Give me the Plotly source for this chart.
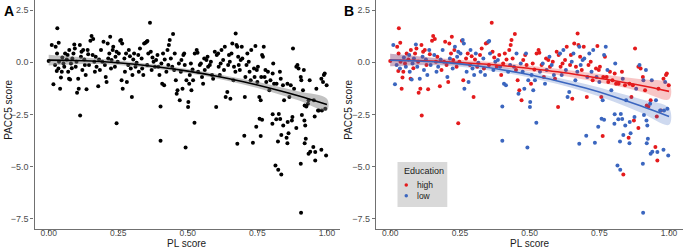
import plotly.graph_objects as go

# ---- data ----
high_x = [0.0, 0.025, 0.031, 0.036, 0.03, 0.037, 0.029, 0.041, 0.044, 0.047, 0.053, 0.059, 0.065, 0.073, 0.074, 0.083, 0.089, 0.094, 0.1,
          0.102, 0.108, 0.113, 0.112, 0.118, 0.124, 0.13, 0.136, 0.142, 0.15, 0.154, 0.16, 0.164, 0.169, 0.178, 0.184, 0.193, 0.197,
          0.202, 0.208, 0.212, 0.218, 0.221, 0.226, 0.23, 0.238, 0.244, 0.248, 0.257, 0.262, 0.272, 0.278, 0.286, 0.292, 0.299,
          0.304, 0.312, 0.322, 0.328, 0.336, 0.343, 0.348, 0.354, 0.364, 0.367, 0.373, 0.382, 0.391, 0.398,
          0.405, 0.411, 0.417, 0.427, 0.432, 0.435, 0.439, 0.447, 0.451, 0.457, 0.463, 0.471, 0.477, 0.484, 0.489,
          0.505, 0.511, 0.517, 0.525, 0.532, 0.535, 0.543, 0.551, 0.559, 0.567, 0.573, 0.583, 0.591, 0.597,
          0.602, 0.604, 0.611, 0.618, 0.627, 0.633, 0.645, 0.648, 0.653, 0.66, 0.666, 0.672, 0.675, 0.681, 0.687, 0.694,
          0.705, 0.711, 0.719, 0.726, 0.762, 0.738, 0.743, 0.748, 0.752, 0.757, 0.764, 0.77, 0.776, 0.782, 0.788, 0.797,
          0.805, 0.81, 0.819, 0.836, 0.831, 0.842, 0.855, 0.858, 0.865, 0.87, 0.874, 0.878, 0.89, 0.89, 0.898,
          0.906, 0.914, 0.92, 0.926, 0.934, 0.951, 0.956, 0.958, 0.962, 0.971, 0.98, 0.989, 0.992, 0.999]
high_y = [0.06, 0.74, 1.63, 0.93, 0.42, 0.02, -0.42, -1.27, -0.74, -0.46, -0.06, 0.42, 0.13, -0.79, 0.58, -0.29, 0.42, 0.66, 0.02,
          -1.46, -1.27, -2.56, 0.82, 0.5, 0.58, -0.14, -1.3, 0.38, 1.03, 1.25, 1.11, 0.02, 0.26, -1.15, -0.38, 0.02, 0.98,
          -0.14, -0.95, 0.9, 0.42, 1.22, 0.1, 0.58, -0.22, -2.93, 0.02, 1.03, -0.87, 0.18, 0.42, -0.14, 0.29, -1.67,
          0.13, -0.22, 0.34, 0.66, -0.3, 0.9, 0.93, -0.14, 1.89, 0.5, 0.22, -0.22, 0.34, -0.62,
          -0.06, 0.42, 0.13, 0.58, 0.82, 1.06, 0.18, 1.35, -0.38, -0.87, -1.35, -1.83, 0.1, 0.34, -0.14,
          -1.03, -0.06, -0.35, 0.42, 0.58, 0.45, -0.14, -0.71, 0.18, 0.1, -0.22, 0.02, -0.79, 0.5,
          -2.15, 0.34, -0.22, -0.06, 0.1, 0.74, -0.14, 0.34, -1.75, 0.9, -0.22, 1.38, 0.82, 0.26, -0.38, 0.74,
          -1.67, -0.14, 0.02, -0.87, -3.54, -0.3, 0.77, -0.38, -0.22, -1.67, -0.71, 0.26, -0.71, -0.95, -0.46, -0.87,
          -0.54, -1.03, -1.03, -5.38, -0.46, -1.11, -3.62, -1.03, -1.67, -1.11, -2.8, 0.66, -3.16, -0.22, -0.3,
          -0.71, -1.35, -2.07, -2.12, -1.83, -4.07, -2.6, -4.71, -1.27, -2.31, -0.79, -0.62, -0.54, -1.11]

low_x = [0.011, 0.017, 0.023, 0.035, 0.049, 0.056, 0.068, 0.07, 0.077, 0.08, 0.085, 0.092, 0.097,
         0.106, 0.116, 0.121, 0.128, 0.133, 0.14, 0.145, 0.158, 0.166, 0.172, 0.181, 0.188,
         0.205, 0.214, 0.224, 0.232, 0.24, 0.244, 0.252, 0.26, 0.264, 0.266, 0.274, 0.281, 0.288, 0.295, 0.301,
         0.307, 0.316, 0.324, 0.334, 0.34, 0.352, 0.355, 0.358, 0.37, 0.377, 0.386, 0.394,
         0.402, 0.402, 0.408, 0.415, 0.423, 0.43, 0.444, 0.453, 0.46, 0.468, 0.475, 0.481, 0.487, 0.492, 0.495,
         0.501, 0.502, 0.507, 0.513, 0.519, 0.524, 0.537, 0.547, 0.555, 0.561, 0.571, 0.579, 0.587,
         0.609, 0.615, 0.621, 0.63, 0.636, 0.642, 0.651, 0.657, 0.664, 0.671, 0.678, 0.678, 0.683, 0.69, 0.696,
         0.703, 0.707, 0.714, 0.722, 0.728, 0.734, 0.74, 0.746, 0.75, 0.758, 0.762, 0.767, 0.767, 0.773, 0.779, 0.793,
         0.804, 0.805, 0.807, 0.815, 0.818, 0.824, 0.825, 0.827, 0.832, 0.834, 0.836, 0.843, 0.846, 0.858, 0.859, 0.862, 0.876, 0.882, 0.894,
         0.906, 0.907, 0.908, 0.91, 0.917, 0.919, 0.92, 0.922, 0.924, 0.932, 0.934, 0.938, 0.94, 0.953, 0.958, 0.968, 0.98, 0.982, 0.986, 0.994, 0.997]
low_y = [0.82, -1.06, -0.14, -0.3, 0.22, -0.22, 0.34, -0.46, -0.83, -0.06, 0.18, 0.85, -0.22,
         -0.79, 0.26, -0.38, 0.13, -0.62, 0.58, -0.14, 0.34, -0.46, -0.22, 0.13, 0.58,
         -0.71, 0.18, -0.3, 0.74, 0.26, 0.5, 0.42, 1.06, 0.9, -1.27, -0.46, -0.95, 0.58, -0.3, -0.62,
         0.42, -0.03, -0.46, 0.18, -0.62, 0.98, 1.01, 0.42, -0.38, 0.02, 0.1, -0.22,
         -2.12, -3.76, -1.03, -1.11, -0.46, -0.14, -0.22, 0.42, -1.51, -0.06, -0.46, -1.27, 0.42, -4.09, -0.87,
         -2.15, -1.91, -0.62, -1.35, -0.87, -2.9, -0.46, -0.06, -1.03, -0.38, 0.26, -0.14, -0.62,
         0.42, -0.62, 0.58, -0.38, -1.67, -1.43, 0.02, 0.42, -0.87, -0.46, 0.74, -3.91, -0.14, 0.1, 0.18,
         -3.52, -0.71, 0.42, -0.46, 0.58, -3.86, -0.71, -3.09, -0.95, -2.71, -1.83, -2.76, 0.34, 0.74, -0.38, -1.35,
         -2.95, -2.5, -0.06, -4.95, -2.74, -3.8, -5.16, -2.48, -2.72, -0.79, -3.49, -3.04, -1.83, -3.88, -2.87, -3.4, -2.63, -1.27, -0.14,
         -4.87, -7.21, -0.87, -2.53, -0.38, -2.8, -3.88, -3.03, -3.67, -1.99, -4.39, -0.87, -4.29, -1.83, -4.31, -2.31, -4.2, -2.31, -0.95, -2.23, -4.47]

# fitted curves (read at PL score steps)
fit_x = [0.0, 0.1, 0.2, 0.3, 0.4, 0.5, 0.6, 0.7, 0.8, 0.9, 1.0]
fit_all = [0.10, 0.08, 0.02, -0.09, -0.24, -0.43, -0.66, -0.94, -1.26, -1.62, -2.03]
se_all = [0.26, 0.18, 0.12, 0.10, 0.10, 0.10, 0.11, 0.13, 0.17, 0.22, 0.28]
fit_high = [0.10, 0.08, 0.02, -0.06, -0.16, -0.30, -0.46, -0.66, -0.88, -1.12, -1.40]
se_high = [0.30, 0.21, 0.15, 0.13, 0.13, 0.13, 0.15, 0.18, 0.23, 0.30, 0.38]
fit_low = [0.10, 0.06, -0.02, -0.16, -0.36, -0.60, -0.90, -1.24, -1.64, -2.10, -2.60]
se_low = [0.30, 0.21, 0.15, 0.13, 0.13, 0.13, 0.15, 0.19, 0.24, 0.32, 0.40]

x_ticks = [0, 0.25, 0.5, 0.75, 1.0]
x_labels = ["0.00", "0.25", "0.50", "0.75", "1.00"]
y_ticks = [-7.5, -5.0, -2.5, 0.0, 2.5]
y_labels = ["\u22127.5", "\u22125.0", "\u22122.5", "0.0", "2.5"]
groups = ["high", "low"]

RED = "#E41A1C"
BLUE = "#3B66BF"
FONT = "Liberation Sans, Arial, sans-serif"
TXT = "#1a1a1a"

fig = go.Figure()


def ribbon(xs, ys, se, color, xa, ya):
    upper = [y + s for y, s in zip(ys, se)]
    lower = [y - s for y, s in zip(ys, se)]
    fig.add_trace(go.Scatter(x=xs + xs[::-1], y=upper + lower[::-1], fill="toself",
                             fillcolor=color, line=dict(width=0, shape="spline"),
                             mode="lines", hoverinfo="skip", showlegend=False,
                             xaxis=xa, yaxis=ya))


# Panel A
all_x = high_x + low_x
all_y = high_y + low_y
fig.add_trace(go.Scatter(x=all_x, y=all_y, mode="markers",
                         marker=dict(color="black", size=4), showlegend=False,
                         xaxis="x", yaxis="y"))
ribbon(fit_x, fit_all, se_all, "rgba(120,120,120,0.45)", "x", "y")
fig.add_trace(go.Scatter(x=fit_x, y=fit_all, mode="lines",
                         line=dict(color="black", width=1.6, shape="spline"),
                         showlegend=False, xaxis="x", yaxis="y"))

# Panel B
fig.add_trace(go.Scatter(x=high_x, y=high_y, mode="markers", name=groups[0],
                         marker=dict(color=RED, size=4), showlegend=False,
                         xaxis="x2", yaxis="y2"))
fig.add_trace(go.Scatter(x=low_x, y=low_y, mode="markers", name=groups[1],
                         marker=dict(color=BLUE, size=4), showlegend=False,
                         xaxis="x2", yaxis="y2"))
ribbon(fit_x, fit_high, se_high, "rgba(228,26,28,0.25)", "x2", "y2")
ribbon(fit_x, fit_low, se_low, "rgba(59,102,191,0.25)", "x2", "y2")
fig.add_trace(go.Scatter(x=fit_x, y=fit_high, mode="lines",
                         line=dict(color=RED, width=1.6, shape="spline"),
                         showlegend=False, xaxis="x2", yaxis="y2"))
fig.add_trace(go.Scatter(x=fit_x, y=fit_low, mode="lines",
                         line=dict(color=BLUE, width=1.6, shape="spline"),
                         showlegend=False, xaxis="x2", yaxis="y2"))

W, H = 683, 249
ydom = [1 - 228.7 / H, 1.0]
axcommon = dict(showgrid=False, zeroline=False, showline=True, linecolor="#707070",
                linewidth=1.2, ticks="outside", ticklen=3, tickcolor="#707070")
yfont = dict(size=9, color="#4d4d4d", family=FONT)
xfont = dict(size=8.5, color="#4d4d4d", family=FONT)

fig.update_layout(
    width=W, height=H, margin=dict(l=0, r=0, t=0, b=0),
    paper_bgcolor="white", plot_bgcolor="white",
    font=dict(family=FONT), showlegend=False,
    xaxis=dict(domain=[34.5 / W, 340 / W], range=[-0.051, 1.047], tickvals=x_ticks,
               ticktext=x_labels, anchor="y", ticklabelstandoff=-7, tickfont=xfont, **axcommon),
    yaxis=dict(domain=ydom, range=[-7.98, 2.98], tickvals=y_ticks, ticktext=y_labels,
               anchor="x", tickfont=yfont, **axcommon),
    xaxis2=dict(domain=[376 / W, 1.0], range=[-0.051, 1.05], tickvals=x_ticks,
                ticktext=x_labels, anchor="y2", ticklabelstandoff=-7, tickfont=xfont, **axcommon),
    yaxis2=dict(domain=ydom, range=[-7.98, 2.98], tickvals=y_ticks, ticktext=y_labels,
                anchor="x2", tickfont=yfont, **axcommon),
)


def px_x(p):
    return p / W


def px_y(p):
    return 1 - p / H


ann = []
shapes = []
for cx in [(34.5 + 340) / 2, (376 + 683) / 2]:
    ann.append(dict(text="PL score", x=px_x(cx), y=px_y(243.3), xref="paper", yref="paper",
                    showarrow=False, xanchor="center", yanchor="middle",
                    font=dict(size=10, color=TXT, family=FONT)))
for p in [8.8, 348.8]:
    ann.append(dict(text="PACC5 score", x=px_x(p), y=px_y(110), xref="paper", yref="paper",
                    showarrow=False, textangle=-90, xanchor="center", yanchor="middle",
                    font=dict(size=10, color=TXT, family=FONT)))
for txt, p in [("A", 8.5), ("B", 349)]:
    ann.append(dict(text="<b>" + txt + "</b>", x=px_x(p), y=px_y(11), xref="paper", yref="paper",
                    showarrow=False, xanchor="center", yanchor="middle",
                    font=dict(size=14, color="black", family=FONT)))

# manual legend (ggplot style)
shapes.append(dict(type="rect", xref="paper", yref="paper", x0=px_x(397.5), x1=px_x(447.3),
                   y0=px_y(207), y1=px_y(162), fillcolor="#d9d9d9", line=dict(width=0),
                   layer="above"))
ann.append(dict(text="Education", x=px_x(401.5), y=px_y(171), xref="paper", yref="paper",
                showarrow=False, xanchor="left", yanchor="middle",
                font=dict(size=9, color=TXT, family=FONT)))
for label, col, yy in [(groups[0], RED, 185), (groups[1], BLUE, 195.7)]:
    shapes.append(dict(type="circle", xref="paper", yref="paper",
                       x0=px_x(404.5), x1=px_x(408), y0=px_y(yy + 1.75), y1=px_y(yy - 1.75),
                       fillcolor=col, line=dict(width=0), layer="above"))
    ann.append(dict(text=label, x=px_x(415.5), y=px_y(yy), xref="paper", yref="paper",
                    showarrow=False, xanchor="left", yanchor="middle",
                    font=dict(size=8.5, color=TXT, family=FONT)))

fig.update_layout(annotations=ann, shapes=shapes)

fig.write_html("out.html", config={"displayModeBar": False},
               post_script="document.body.style.margin='0';document.body.style.padding='0';")
